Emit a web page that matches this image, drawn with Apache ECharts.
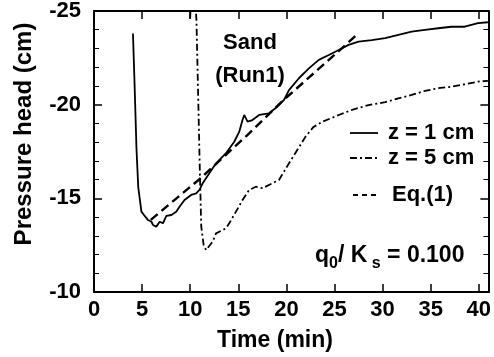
<!DOCTYPE html>
<html>
<head>
<meta charset="utf-8">
<script src="https://cdn.jsdelivr.net/npm/echarts@6/dist/echarts.min.js"></script>
<style>
  html, body { margin: 0; padding: 0; background: #fff; }
  #chart { width: 494px; height: 357px; }
</style>
</head>
<body>
<div id="chart"></div>
<script>
// tick values
const xTicks = [0, 5, 10, 15, 20, 25, 30, 35, 40];

// z = 1 cm (solid)
const z1Time = [4.05, 4.2, 4.42, 4.6, 4.93, 5.27, 5.62, 5.97, 6.13, 6.48, 6.83, 7.17, 7.52, 8.04, 8.55, 8.89, 9.41, 10.1, 10.62, 10.96, 11.3,
  11.99, 12.69, 13.72, 14.58, 15.1, 15.44, 15.62, 15.96, 16.47, 17.17, 18.2, 19.06, 19.75, 20.27, 21.3, 22.34, 23.37, 24.41, 25.44,
  26.47, 27.5, 28.88, 30.27, 31.64, 33.02, 34.4, 35.78, 37.16, 38.54, 39.92, 40.95];
const z1Head = [-23.8, -21.4, -17.6, -15.6, -14.29, -14.06, -13.84, -13.75, -13.58, -13.49, -13.75, -13.67, -14.06, -14.11, -14.29, -14.55, -14.91, -15.18, -15.27, -15.45, -15.8,
  -16.34, -16.87, -17.41, -18.02, -18.56, -19.18, -19.45, -19.09, -19.18, -19.45, -19.54, -19.89, -20.25, -20.78, -21.41, -21.94, -22.39, -22.65, -22.92,
  -23.19, -23.36, -23.45, -23.55, -23.72, -23.9, -23.99, -24.08, -24.16, -24.16, -24.35, -24.4];

// z = 5 cm (dash-dot)
const z5Time = [10.0, 10.05, 10.55, 10.65, 10.85, 11.0, 11.15, 11.4, 11.65, 12.34, 12.69, 13.72, 14.06, 14.76, 15.44, 16.13, 16.83, 17.51, 18.54, 19.23,
  20.27, 21.13, 22.0, 22.8, 23.71, 25.44, 26.82, 28.54, 30.27, 31.64, 33.02, 34.4, 35.78, 37.16, 38.54, 39.92, 40.95];
const z5Head = [-24.6, -25.4, -25.4, -24.5, -20.0, -16.5, -13.5, -12.5, -12.24, -12.69, -13.13, -13.4, -13.67, -14.29, -14.91, -15.45, -15.62, -15.54, -15.8, -15.98,
  -16.87, -17.58, -18.3, -18.8, -19.08, -19.45, -19.72, -19.98, -20.13, -20.34, -20.52, -20.73, -20.88, -20.96, -21.09, -21.23, -21.27];

// Eq.(1) (dashed)
const eqTime = [5.9, 10.96, 16.13, 19.58, 24.0, 27.5];
const eqHead = [-13.85, -16.02, -18.47, -20.19, -22.2, -23.81];

const pairs = (xs, ys) => xs.map((x, i) => [x, ys[i]]);

const font = 'Liberation Sans, Arial, sans-serif';
const black = '#000';
const labelStyle = { color: black, fontSize: 22, fontWeight: 'bold', fontFamily: font };

const chart = echarts.init(document.getElementById('chart'), null, { renderer: 'canvas' });

const baseX = {
  type: 'value', min: 0, max: 41,
  axisLine: { show: true, onZero: false, lineStyle: { color: black, width: 2 } },
  axisTick: { show: true, inside: true, length: 8, customValues: xTicks, lineStyle: { color: black, width: 1.5 } },
  splitLine: { show: false }
};
const baseY = {
  type: 'value', min: -25, max: -10, interval: 5, inverse: true,
  axisLine: { show: true, onZero: false, lineStyle: { color: black, width: 2 } },
  axisTick: { show: true, inside: true, length: 8, lineStyle: { color: black, width: 1.5 } },
  minorTick: { show: true, splitNumber: 5, length: 5, lineStyle: { color: black, width: 1 } },
  splitLine: { show: false }
};

chart.setOption({
  animation: false,
  backgroundColor: '#fff',
  grid: { left: 94, right: 5, top: 11, bottom: 65, containLabel: false },
  xAxis: [
    Object.assign({}, baseX, {
      position: 'bottom',
      axisLabel: Object.assign({ customValues: xTicks, margin: 7 }, labelStyle)
    }),
    Object.assign({}, baseX, { position: 'top', axisLabel: { show: false } })
  ],
  yAxis: [
    Object.assign({}, baseY, {
      position: 'left',
      axisLabel: Object.assign({ margin: 13 }, labelStyle)
    }),
    Object.assign({}, baseY, { position: 'right', axisLabel: { show: false } })
  ],
  series: [
    {
      name: 'z = 1 cm', type: 'line', showSymbol: false, symbol: 'none',
      data: pairs(z1Time, z1Head),
      lineStyle: { color: black, width: 1.8, type: 'solid' }
    },
    {
      name: 'z = 5 cm', type: 'line', showSymbol: false, symbol: 'none',
      data: pairs(z5Time, z5Head),
      lineStyle: { color: black, width: 1.8, type: [7, 3, 2, 3] }
    },
    {
      name: 'Eq.(1)', type: 'line', showSymbol: false, symbol: 'none',
      data: pairs(eqTime, eqHead),
      lineStyle: { color: black, width: 2.4, type: [9, 5] }
    }
  ],
  graphic: [
    { type: 'text', x: 24, y: 134, rotation: Math.PI / 2,
      style: { text: 'Pressure head (cm)', fill: black, font: 'bold 24px ' + font, textAlign: 'center', textVerticalAlign: 'middle' } },
    { type: 'text', x: 275, y: 341,
      style: { text: 'Time (min)', fill: black, font: 'bold 23px ' + font, textAlign: 'center', textVerticalAlign: 'middle' } },
    { type: 'text', x: 250, y: 43,
      style: { text: 'Sand', fill: black, font: 'bold 22px ' + font, textAlign: 'center', textVerticalAlign: 'middle' } },
    { type: 'text', x: 250, y: 76,
      style: { text: '(Run1)', fill: black, font: 'bold 22px ' + font, textAlign: 'center', textVerticalAlign: 'middle' } },
    // legend
    { type: 'line', shape: { x1: 350, y1: 133, x2: 378, y2: 133 }, style: { stroke: black, lineWidth: 1.8 } },
    { type: 'text', x: 388, y: 133,
      style: { text: 'z = 1 cm', fill: black, font: 'bold 22px ' + font, textAlign: 'left', textVerticalAlign: 'middle' } },
    { type: 'line', shape: { x1: 350, y1: 158, x2: 378, y2: 158 }, style: { stroke: black, lineWidth: 1.8, lineDash: [7, 3, 2, 3] } },
    { type: 'text', x: 388, y: 158,
      style: { text: 'z = 5 cm', fill: black, font: 'bold 22px ' + font, textAlign: 'left', textVerticalAlign: 'middle' } },
    { type: 'line', shape: { x1: 353, y1: 195, x2: 378, y2: 195 }, style: { stroke: black, lineWidth: 1.8, lineDash: [5, 4] } },
    { type: 'text', x: 392, y: 195,
      style: { text: 'Eq.(1)', fill: black, font: 'bold 22px ' + font, textAlign: 'left', textVerticalAlign: 'middle' } },
    { type: 'text', x: 315, y: 256,
      style: {
        text: '{a|q}{b|0}{a|/ K}{b| s}{a| = 0.100}',
        textAlign: 'left', textVerticalAlign: 'middle',
        rich: {
          a: { fill: black, fontSize: 23, fontWeight: 'bold', fontFamily: font, verticalAlign: 'bottom' },
          b: { fill: black, fontSize: 16, fontWeight: 'bold', fontFamily: font, verticalAlign: 'bottom', padding: [0, 0, -4, 0] }
        }
      } }
  ]
});
</script>
</body>
</html>
